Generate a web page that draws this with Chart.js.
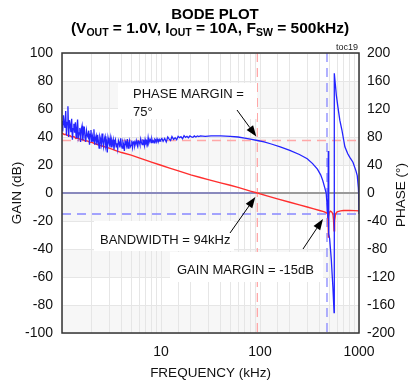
<!DOCTYPE html>
<html>
<head>
<meta charset="utf-8">
<script src="https://cdn.jsdelivr.net/npm/chart.js@4/dist/chart.umd.min.js"></script>
<style>
  html, body { margin: 0; padding: 0; background: #fff; }
  #bode { display: block; }
</style>
</head>
<body>
<canvas id="bode" width="408" height="383"></canvas>
<script>
const phaseFreq = [
  1.000, 1.017, 1.035, 1.053, 1.072, 1.090, 1.109, 1.128, 1.148, 1.168, 1.189, 1.209, 1.230, 1.252,
  1.274, 1.296, 1.318, 1.341, 1.365, 1.389, 1.413, 1.437, 1.462, 1.488, 1.514, 1.540, 1.567, 1.594,
  1.622, 1.650, 1.679, 1.708, 1.738, 1.768, 1.799, 1.830, 1.862, 1.895, 1.928, 1.961, 1.995, 2.030,
  2.065, 2.101, 2.138, 2.175, 2.213, 2.251, 2.291, 2.330, 2.371, 2.412, 2.455, 2.497, 2.541, 2.585,
  2.630, 2.676, 2.723, 2.770, 2.818, 2.867, 2.917, 2.968, 3.020, 3.073, 3.126, 3.181, 3.236, 3.293,
  3.350, 3.408, 3.467, 3.528, 3.589, 3.652, 3.715, 3.780, 3.846, 3.913, 3.981, 4.050, 4.121, 4.193,
  4.266, 4.340, 4.416, 4.493, 4.571, 4.650, 4.732, 4.814, 4.898, 4.983, 5.070, 5.158, 5.248, 5.340,
  5.433, 5.528, 5.623, 5.721, 5.821, 5.922, 6.026, 6.131, 6.237, 6.346, 6.457, 6.569, 6.683, 6.800,
  6.918, 7.039, 7.161, 7.286, 7.413, 7.543, 7.674, 7.808, 7.943, 8.082, 8.222, 8.366, 8.511, 8.660,
  8.810, 8.964, 9.120, 9.279, 9.441, 9.606, 9.772, 9.944,
  10.2, 10.5, 10.9, 11.3, 11.7, 12.1, 12.5, 12.9, 13.4, 13.9, 14.4, 14.9, 15.4, 15.9, 16.5, 17.1,
  17.7, 18.3, 18.9, 19.6, 20.3, 21.0, 21.7, 22.5, 23.3, 24.1, 25.0,
  28, 32, 40, 50, 60, 70, 80, 94, 110, 130, 160, 200, 250, 300, 340, 380, 410, 430, 450, 466,
  478, 486, 490, 494, 505, 525, 545, 560, 563, 590, 612, 640, 672, 720, 770, 808, 869, 930, 960,
  985, 993, 1000
];
const phaseDeg = [
  103, 88, 111, 99, 93, 117, 82, 101, 124, 80, 104, 97, 87, 106,
  76, 92, 99, 86, 101, 79, 92, 105, 80, 86, 93, 73, 91, 96,
  75, 87, 95, 79, 73, 89, 82, 80, 89, 69, 84, 90, 73, 81,
  74, 91, 69, 78, 82, 69, 83, 74, 64, 81, 77, 70, 85, 73,
  66, 77, 81, 67, 72, 58, 79, 73, 69, 78, 66, 75, 70, 76,
  62, 72, 76, 66, 71, 63, 75, 72, 65, 78, 68, 64, 73, 69.5,
  60, 74, 71, 67, 77, 64, 71, 75, 66, 68, 75, 65, 72, 73.5,
  67, 71, 75, 69, 66, 74, 73, 69, 77, 72, 69, 75.5, 75, 68,
  76.5, 72, 74, 69.5, 79, 71.5, 75, 76.5, 72, 77, 73, 74.5, 71.5, 77,
  76, 73, 77.5, 74.5, 73.5, 76.5, 74, 76,
  78, 74, 78, 73, 80, 77, 75, 80.5, 76.5, 79, 76, 81, 79, 80.5, 77.5, 82,
  79.5, 81, 79, 81.5, 80, 79.5, 81.5, 80, 81.5, 80.5, 81.5,
  81, 81.5, 81.5, 81, 80, 78.5, 77, 75, 73, 70, 66, 61, 55, 49, 42, 34, 26, 18, 8, 0,
  -20, -36, 60, -58, -65, -95, -135, -171, 171, 140, 123, 104, 90, 66, 56, 51, 44, 32, 25,
  8, -2, -30
];

// gain (dB)
const gainFreq = [
  1, 1.05, 1.1, 1.15, 1.2, 1.26, 1.32, 1.38, 1.45, 1.52, 1.6, 1.7, 1.8, 1.9, 2, 2.2, 2.4, 2.6,
  2.8, 3, 3.5, 4, 5, 6, 7, 8, 10, 12, 15, 20, 25, 30, 40, 50, 60, 70, 80, 94, 120, 150, 200,
  250, 300, 350, 400, 440, 470, 482, 487, 490, 493, 500, 515, 530, 545, 553, 560, 567, 580,
  600, 650, 700, 800, 900, 1000
];
const gainDb = [
  43, 41.8, 42, 40.8, 41, 40, 40.3, 39, 39.3, 38.3, 38.4, 37.2, 37.2, 36.3, 36.2, 35, 34, 33.4,
  32.6, 32, 30.3, 28.9, 27, 25.1, 23.5, 22.1, 19.8, 18, 15.8, 13, 11.1, 9.6, 7.2, 5.5, 4, 2.6, 1.3, 0, -2.2, -4.2, -6.6,
  -8.5, -10, -11.3, -12.5, -13.3, -14.2, -15, -19, -32, -17, -14, -13, -13.5, -15, -19, -27, -20, -15,
  -13.5, -12.8, -12.5, -12.5, -12.6, -12.8
];

const xLabels = [10, 100, 1000];
const bandwidthKHz = 94;      // crossover
const gmFreqKHz = 475;        // phase crossover
const phaseMarginDeg = 75;
const gainMarginDb = -15;

const FONT = "'Liberation Sans', Arial, sans-serif";

const toPts = (xs, ys) => xs.map((x, i) => ({ x: x, y: ys[i] }));

function arrow(ctx, x0, y0, x1, y1) {
  const a = Math.atan2(y1 - y0, x1 - x0);
  const len = 11, w = 4;
  ctx.strokeStyle = '#000';
  ctx.lineWidth = 1;
  ctx.beginPath();
  ctx.moveTo(x0, y0);
  ctx.lineTo(x1 - Math.cos(a) * len, y1 - Math.sin(a) * len);
  ctx.stroke();
  ctx.fillStyle = '#000';
  ctx.beginPath();
  ctx.moveTo(x1, y1);
  ctx.lineTo(x1 - Math.cos(a) * len - Math.sin(a) * w, y1 - Math.sin(a) * len + Math.cos(a) * w);
  ctx.lineTo(x1 - Math.cos(a) * len + Math.sin(a) * w, y1 - Math.sin(a) * len - Math.cos(a) * w);
  ctx.closePath();
  ctx.fill();
}

function label(ctx, lines, x, y, box) {
  ctx.fillStyle = '#fff';
  ctx.fillRect(box[0], box[1], box[2], box[3]);
  ctx.fillStyle = '#111';
  ctx.font = '13px ' + FONT;
  ctx.textAlign = 'left';
  ctx.textBaseline = 'alphabetic';
  lines.forEach((t, i) => ctx.fillText(t, x, y + i * 18));
}

const bodeDecor = {
  id: 'bodeDecor',
  beforeDraw(chart) {
    const { ctx, chartArea: ca, scales } = chart;
    ctx.save();
    ctx.fillStyle = '#fff';
    ctx.fillRect(ca.left, ca.top, ca.width, ca.height);
    // alternating bands
    for (let v = 80; v > -100; v -= 40) {
      const y0 = scales.y.getPixelForValue(v);
      const y1 = scales.y.getPixelForValue(v - 20);
      ctx.fillStyle = '#f7f7f7';
      ctx.fillRect(ca.left, y0, ca.width, y1 - y0);
    }
    ctx.restore();
  },
  beforeDatasetsDraw(chart) {
    const { ctx, chartArea: ca, scales } = chart;
    const x = scales.x, y = scales.y, y1 = scales.y1;
    ctx.save();
    // 0 dB line
    const y0 = y.getPixelForValue(0);
    ctx.strokeStyle = '#9a9a9a';
    ctx.lineWidth = 2;
    ctx.beginPath(); ctx.moveTo(ca.left, y0); ctx.lineTo(ca.right, y0); ctx.stroke();
    ctx.strokeStyle = 'rgba(110,110,255,0.7)';
    ctx.lineWidth = 1;
    ctx.beginPath(); ctx.moveTo(ca.left, y0); ctx.lineTo(x.getPixelForValue(90), y0); ctx.stroke();

    // phase margin / bandwidth markers (pink)
    ctx.setLineDash([9, 6]);
    ctx.strokeStyle = '#ffa8a8';
    ctx.lineWidth = 1.3;
    const ypm = y1.getPixelForValue(phaseMarginDeg);
    ctx.beginPath(); ctx.moveTo(ca.left, ypm); ctx.lineTo(ca.right, ypm); ctx.stroke();
    const xbw = x.getPixelForValue(bandwidthKHz);
    ctx.beginPath(); ctx.moveTo(xbw, ca.top); ctx.lineTo(xbw, ca.bottom); ctx.stroke();

    // gain margin markers (blue)
    ctx.strokeStyle = '#8888ff';
    const ygm = y.getPixelForValue(gainMarginDb);
    ctx.beginPath(); ctx.moveTo(ca.left, ygm); ctx.lineTo(ca.right, ygm); ctx.stroke();
    const xgm = x.getPixelForValue(gmFreqKHz);
    ctx.beginPath(); ctx.moveTo(xgm, ca.top); ctx.lineTo(xgm, ca.bottom); ctx.stroke();
    ctx.restore();
  },
  afterDraw(chart) {
    const { ctx, chartArea: ca, scales } = chart;
    const x = scales.x, y = scales.y, y1 = scales.y1;
    ctx.save();
    // frame
    ctx.strokeStyle = '#333';
    ctx.lineWidth = 1.5;
    ctx.strokeRect(ca.left, ca.top, ca.width, ca.height);

    // titles
    ctx.fillStyle = '#000';
    ctx.textAlign = 'center';
    ctx.textBaseline = 'alphabetic';
    ctx.font = 'bold 15px ' + FONT;
    ctx.fillText('BODE PLOT', 215, 19);

    const parts = [
      ['(V', 0], ['OUT', 1], [' = 1.0V, I', 0], ['OUT', 1], [' = 10A, F', 0], ['SW', 1], [' = 500kHz)', 0]
    ];
    const big = 'bold 15.5px ' + FONT, small = 'bold 10.5px ' + FONT;
    let total = 0;
    parts.forEach(p => { ctx.font = p[1] ? small : big; total += ctx.measureText(p[0]).width; });
    let cx = 210 - total / 2;
    ctx.textAlign = 'left';
    parts.forEach(p => {
      ctx.font = p[1] ? small : big;
      ctx.fillText(p[0], cx, p[1] ? 36 : 33);
      cx += ctx.measureText(p[0]).width;
    });

    ctx.font = '9px ' + FONT;
    ctx.textAlign = 'right';
    ctx.fillStyle = '#222';
    ctx.fillText('toc19', ca.right - 1, ca.top - 3);

    // right axis title, reads bottom to top
    ctx.save();
    ctx.translate(400, 195);
    ctx.rotate(-Math.PI / 2);
    ctx.textAlign = 'center';
    ctx.font = '13.5px ' + FONT;
    ctx.fillStyle = '#111';
    ctx.fillText('PHASE (\u00b0)', 0, 5);
    ctx.restore();

    // annotations
    label(ctx, ['PHASE MARGIN =', '75\u00b0'], 133, 98, [118, 83, 139, 36]);
    arrow(ctx, 237, 110, x.getPixelForValue(bandwidthKHz) - 1, y1.getPixelForValue(phaseMarginDeg) - 4);

    label(ctx, ['BANDWIDTH = 94kHz'], 100, 244, [94, 221, 140, 30]);
    arrow(ctx, 230, 233, x.getPixelForValue(bandwidthKHz) - 2, y.getPixelForValue(0) + 4);

    label(ctx, ['GAIN MARGIN = -15dB'], 177, 274, [170, 252, 153, 30]);
    arrow(ctx, 303, 249, x.getPixelForValue(gmFreqKHz) - 4, y.getPixelForValue(gainMarginDb) + 5);
    ctx.restore();
  }
};

const tickFont = { family: FONT, size: 14 };

new Chart(document.getElementById('bode').getContext('2d'), {
  type: 'line',
  data: {
    datasets: [
      {
        label: 'Phase',
        data: toPts(phaseFreq, phaseDeg),
        yAxisID: 'y1',
        borderColor: '#2424ff',
        borderWidth: 1.3,
        pointRadius: 0,
        tension: 0
      },
      {
        label: 'Gain',
        data: toPts(gainFreq, gainDb),
        yAxisID: 'y',
        borderColor: '#ff2e2e',
        borderWidth: 1.4,
        pointRadius: 0,
        tension: 0
      }
    ]
  },
  options: {
    responsive: false,
    animation: false,
    devicePixelRatio: 1,
    layout: { padding: { top: 53, left: 0, right: 0, bottom: 0 } },
    plugins: { legend: { display: false }, tooltip: { enabled: false } },
    scales: {
      x: {
        type: 'logarithmic',
        min: 1,
        max: 1000,
        border: { display: false },
        grid: { color: '#e6e6e6', drawTicks: false },
        ticks: {
          autoSkip: false,
          maxRotation: 0,
          padding: 11,
          color: '#111',
          font: tickFont,
          callback: v => xLabels.includes(v) ? String(v) : ''
        },
        title: { display: true, text: 'FREQUENCY (kHz)', color: '#111', font: { family: FONT, size: 13.5 }, padding: { top: 0, bottom: 2 } },
        afterFit: s => { s.height = 50; }
      },
      y: {
        position: 'left',
        min: -100,
        max: 100,
        border: { display: false },
        grid: { color: '#e6e6e6', drawTicks: false },
        ticks: { stepSize: 20, padding: 9, color: '#111', font: tickFont },
        title: { display: true, text: 'GAIN (dB)', color: '#111', font: { family: FONT, size: 13.5 }, padding: { top: 9 } },
        afterFit: s => { s.width = 62; }
      },
      y1: {
        position: 'right',
        min: -200,
        max: 200,
        border: { display: false },
        grid: { display: false, drawTicks: false },
        ticks: { stepSize: 40, padding: 8, color: '#111', font: tickFont },
        afterFit: s => { s.width = 49; }
      }
    }
  },
  plugins: [bodeDecor]
});
</script>
</body>
</html>
